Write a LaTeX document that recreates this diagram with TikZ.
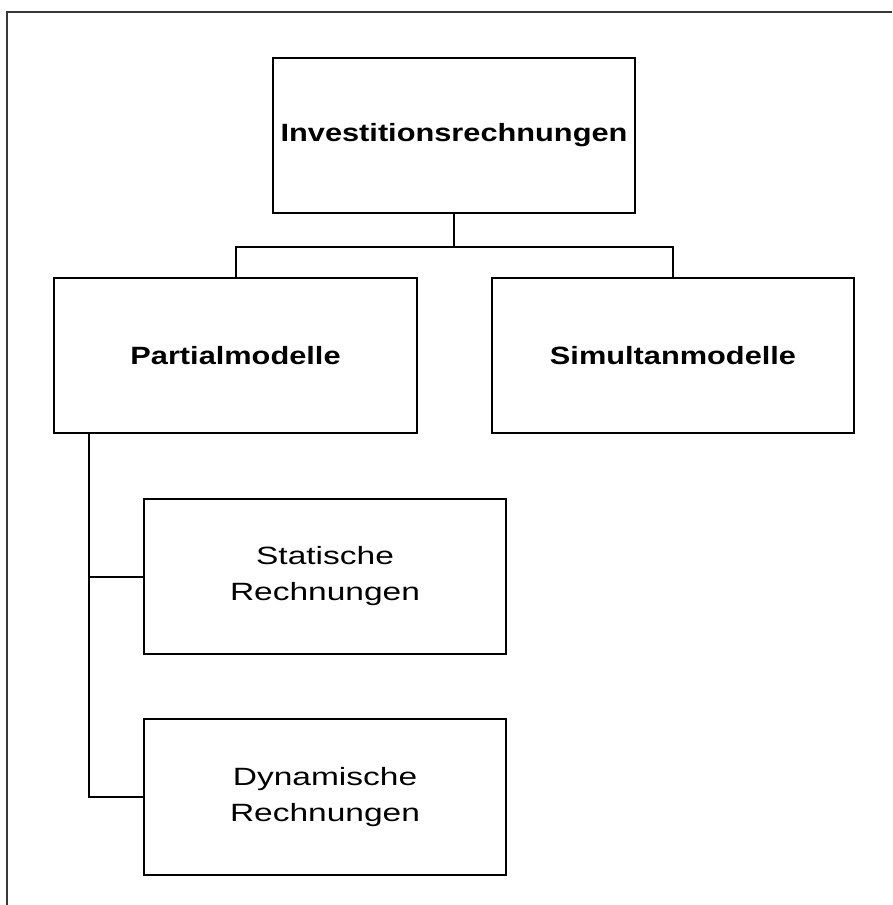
\documentclass[tikz,border=0pt]{standalone}
\usepackage{fontspec}
\setmainfont{Liberation Sans}
\usetikzlibrary{positioning}

% wide lettering used inside the boxes
\newcommand{\widebold}[1]{\scalebox{1.23}[1]{\bfseries #1}}
\newcommand{\widereg}[1]{\scalebox{1.34}[1]{#1}}

\begin{document}
\begin{tikzpicture}[x=1pt,y=-1pt,
  box/.style={draw=black, line width=2pt, minimum width=362pt, minimum height=155pt,
              inner sep=0pt, align=center, font=\fontsize{25}{36}\selectfont},
  link/.style={draw=black, line width=2pt},
  frame/.style={draw=black!78, line width=1.5pt}]

  \useasboundingbox (0,0) rectangle (892,905);

  % page frame (left and top edges)
  \draw[frame] (7,905) -- (7,12) -- (892,12);

  % boxes
  \node[box] (invest) at (454,135.5) {\widebold{Investitionsrechnungen}};
  \node[box, minimum width=363pt] (partial) at (235.5,355.5) {\widebold{Partialmodelle}};
  \node[box] (simul) at (673,355.5) {\widebold{Simultanmodelle}};
  \node[box] (stat) at (325,576.5) {\widereg{Statische}\\\widereg{Rechnungen}};
  \node[box, minimum height=156pt] (dyn) at (325,797) {\widereg{Dynamische}\\\widereg{Rechnungen}};

  % tree connectors
  \draw[link] (invest.south) -- ++(0,33) -| (partial.north);
  \draw[link] (invest.south) -- ++(0,33) -| (simul.north);
  \coordinate (spine) at ([xshift=36pt]partial.south west);
  \draw[link] (spine) |- (stat.west);
  \draw[link] (spine) |- (dyn.west);
\end{tikzpicture}
\end{document}
